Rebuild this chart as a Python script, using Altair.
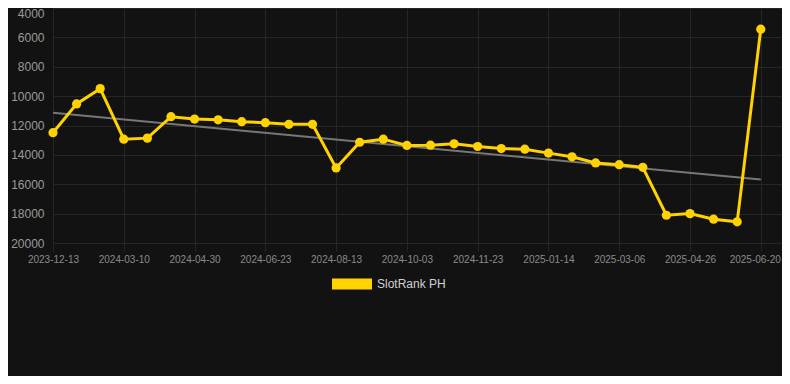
import altair as alt
import pandas as pd

dates = [
    "2023-12-13", "2024-01-12", "2024-02-10", "2024-03-10", "2024-03-27", "2024-04-13",
    "2024-04-30", "2024-05-18", "2024-06-05", "2024-06-23", "2024-07-10", "2024-07-27",
    "2024-08-13", "2024-08-30", "2024-09-16", "2024-10-03", "2024-10-20", "2024-11-06",
    "2024-11-23", "2024-12-10", "2024-12-27", "2025-01-14", "2025-01-31", "2025-02-17",
    "2025-03-06", "2025-03-23", "2025-04-09", "2025-04-26", "2025-05-14", "2025-06-01",
    "2025-06-20",
]
ranks = [
    12490, 10530, 9490, 12930, 12860, 11400,
    11560, 11610, 11740, 11810, 11920, 11920,
    14890, 13140, 12930, 13360, 13340, 13250,
    13430, 13570, 13610, 13880, 14130, 14550,
    14670, 14850, 18110, 18000, 18380, 18560,
    5440,
]
tick_dates = dates[::3]
y_ticks = [4000, 6000, 8000, 10000, 12000, 14000, 16000, 18000, 20000]
trend_values = [11140, 15680]
series_name = "SlotRank PH"

YELLOW = "#FFD200"
FONT = "Liberation Sans"
GRID = "#262626"

idx = list(range(len(dates)))
tick_idx = idx[::3]
last_idx = idx[-1]
df = pd.DataFrame({"i": idx, "date": dates, "rank": ranks, "series": series_name})
tdf = pd.DataFrame({"i": [idx[0], idx[-1]], "rank": trend_values})

label_lookup = "[" + ",".join("'%s'" % d for d in dates) + "]"

x_enc = alt.X(
    "i:Q",
    scale=alt.Scale(domain=[0, 30.9], nice=False, zero=False),
    axis=alt.Axis(
        title=None,
        values=tick_idx,
        labelExpr=label_lookup + "[datum.value]",
        labelAngle=0,
        labelFontSize=10,
        labelColor="#8a8a8a",
        labelFont=FONT,
        labelPadding=3,
        labelFlush=False,
        labelOverlap=False,
        labelOffset={"condition": {"test": "datum.value == %d" % last_idx, "value": -6}, "value": 0},
        tickSize=8,
        tickColor=GRID,
        gridColor=GRID,
        grid=True,
        domain=False,
    ),
)
y_enc = alt.Y(
    "rank:Q",
    scale=alt.Scale(domain=[4000, 20000], reverse=True, nice=False, zero=False),
    axis=alt.Axis(
        title=None,
        values=y_ticks,
        format="d",
        labelFontSize=12,
        labelColor="#9a9a9a",
        labelFont=FONT,
        labelPadding=9,
        labelBaseline={"condition": {"test": "datum.value == 4000", "value": "top"}, "value": "middle"},
        ticks=False,
        domain=False,
        gridColor=GRID,
    ),
)

trend = alt.Chart(tdf).mark_line(color="#777777", strokeWidth=2).encode(x=x_enc, y=y_enc)
line = alt.Chart(df).mark_line(color=YELLOW, strokeWidth=3).encode(x=x_enc, y=y_enc)
pts = alt.Chart(df).mark_circle(size=85, opacity=1).encode(
    x=x_enc,
    y=y_enc,
    color=alt.Color(
        "series:N",
        scale=alt.Scale(domain=[series_name], range=[YELLOW]),
        legend=alt.Legend(
            title=None,
            orient="none",
            legendX=279,
            legendY=256,
            symbolType="M-1,-0.28L1,-0.28L1,0.28L-1,0.28Z",
            symbolSize=1600,
            symbolStrokeWidth=0,
            symbolOpacity=1,
            labelFontSize=12,
            labelColor="#d0d0d0",
            labelFont=FONT,
            labelOffset=5,
            padding=0,
        ),
    ),
)

chart = (
    alt.layer(trend, line, pts)
    .properties(
        width=729,
        height=235,
        background="#121212",
        padding={"left": 45, "top": 0, "right": 0, "bottom": 133},
        autosize=alt.AutoSizeParams(type="none"),
    )
    .configure_view(stroke=None)
)

chart.save("out.html", embed_options={"renderer": "svg", "actions": False})
